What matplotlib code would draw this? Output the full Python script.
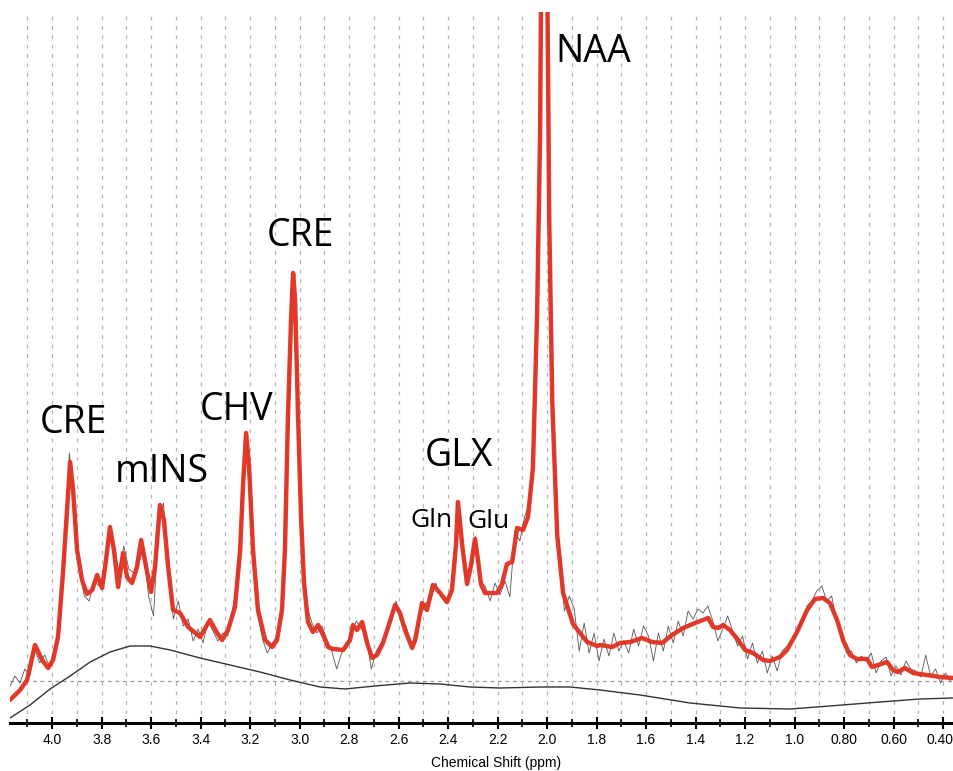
import numpy as np
import matplotlib
matplotlib.use("Agg")
import matplotlib.pyplot as plt
import matplotlib.transforms as mtransforms

# LCModel-style fit (red): ppm / amplitude (a.u.)
fit_ppm = [4.170, 4.129, 4.101, 4.069, 4.040, 4.016, 3.996, 3.976, 3.956, 3.939,
           3.927, 3.915, 3.899, 3.879, 3.859, 3.838, 3.818, 3.798, 3.782, 3.766,
           3.750, 3.733, 3.713, 3.697, 3.677, 3.657, 3.640, 3.620, 3.600, 3.584,
           3.564, 3.548, 3.531, 3.511, 3.483, 3.450, 3.402, 3.362, 3.333, 3.313,
           3.289, 3.261, 3.240, 3.228, 3.216, 3.204, 3.188, 3.168, 3.139, 3.111,
           3.091, 3.071, 3.059, 3.047, 3.034, 3.026, 3.018, 3.006, 2.994, 2.982,
           2.966, 2.946, 2.925, 2.905, 2.885, 2.865, 2.824, 2.796, 2.784, 2.768,
           2.747, 2.727, 2.707, 2.687, 2.663, 2.642, 2.614, 2.594, 2.574, 2.545,
           2.533, 2.505, 2.485, 2.461, 2.432, 2.404, 2.384, 2.368, 2.360, 2.343,
           2.323, 2.307, 2.291, 2.279, 2.267, 2.251, 2.202, 2.182, 2.162, 2.141,
           2.121, 2.097, 2.077, 2.057, 2.040, 2.028, 2.024, 2.012, 1.999, 1.991,
           1.979, 1.959, 1.935, 1.895, 1.838, 1.798, 1.785, 1.737, 1.705, 1.664,
           1.616, 1.576, 1.535, 1.495, 1.450, 1.402, 1.349, 1.329, 1.309, 1.289,
           1.261, 1.228, 1.200, 1.168, 1.127, 1.099, 1.059, 1.030, 0.990, 0.949,
           0.917, 0.885, 0.857, 0.828, 0.804, 0.776, 0.748, 0.707, 0.687, 0.663,
           0.626, 0.602, 0.582, 0.554, 0.521, 0.465, 0.412, 0.360]
fit_amp = [-19, -9, 1, 36, 21, 13, 21, 44, 108, 174,
           219, 191, 131, 101, 87, 91, 106, 93, 121, 154,
           131, 94, 128, 104, 98, 114, 141, 114, 89, 114,
           176, 161, 114, 71, 68, 54, 44, 61, 48, 41,
           51, 74, 131, 198, 248, 214, 131, 71, 41, 34,
           41, 71, 131, 264, 364, 408, 381, 264, 164, 98,
           59, 49, 56, 46, 34, 32, 31, 41, 56, 51,
           59, 38, 23, 26, 38, 54, 76, 68, 51, 33,
           41, 78, 71, 96, 88, 79, 91, 136, 179, 136,
           97, 116, 142, 121, 97, 88, 88, 97, 117, 119,
           153, 151, 164, 213, 369, 547, 700, 950, 700, 460,
           280, 146, 88, 57, 39, 35, 36, 34, 38, 39,
           43, 39, 38, 46, 53, 58, 63, 54, 53, 56,
           51, 41, 31, 28, 21, 20, 24, 31, 49, 71,
           82, 83, 78, 61, 41, 26, 22, 22, 14, 16,
           19, 11, 9, 13, 8, 6, 4, 3]

# raw spectrum (thin grey), sampled every 0.02 ppm from 4.17 to 0.37
raw_ppm = np.round(4.17 - 0.02 * np.arange(191), 2)
raw_amp = [-5, 5, -2, 12, 5, 32, 18, 26, 14, 32,
           55, 125, 228, 170, 112, 85, 80, 100, 95, 98,
           145, 136, 110, 135, 112, 108, 118, 132, 85, 65,
           155, 178, 115, 62, 80, 55, 62, 40, 52, 38,
           60, 50, 40, 48, 45, 72, 105, 188, 240, 138,
           70, 42, 28, 38, 45, 73, 225, 400, 300, 135,
           75, 58, 48, 55, 42, 30, 12, 28, 33, 50,
           60, 52, 45, 12, 30, 38, 45, 62, 80, 60,
           55, 38, 40, 68, 78, 82, 98, 85, 78, 90,
           135, 168, 105, 108, 145, 100, 95, 80, 98, 86,
           100, 84, 150, 140, 165, 178, 265, 530, 900, 450,
           215, 130, 70, 85, 72, 30, 58, 28, 48, 20,
           42, 25, 48, 30, 40, 28, 52, 35, 55, 45,
           20, 48, 30, 55, 38, 60, 45, 70, 62, 72,
           68, 75, 60, 40, 52, 65, 50, 35, 45, 22,
           38, 18, 30, 8, 25, 10, 30, 35, 42, 50,
           58, 75, 80, 90, 95, 80, 85, 60, 50, 28,
           30, 18, 25, 20, 28, 8, 20, 24, 5, 15,
           6, 20, 12, 10, 4, 26, 5, 12, -2, 8, 0]

# baseline (black)
base_ppm = [4.170, 4.089, 4.008, 3.927, 3.846, 3.766, 3.685, 3.604, 3.523, 3.402,
            3.281, 3.160, 3.038, 2.917, 2.816, 2.695, 2.553, 2.432, 2.311, 2.190,
            2.028, 1.907, 1.786, 1.624, 1.422, 1.220, 1.018, 0.857, 0.655, 0.493, 0.360]
base_amp = [-37, -24, -8, 5, 19, 29, 35, 35, 31, 23,
            16, 9, 1, -6, -8, -5, -2, -3, -6, -7,
            -6, -6, -9, -14, -22, -27, -28, -25, -21, -18, -17]

# metabolite labels: text, ppm, amplitude of baseline, size
labels = ["CRE", "mINS", "CHV", "CRE", "GLX", "Gln", "Glu", "NAA"]
label_ppm = [3.915, 3.555, 3.256, 2.998, 2.355, 2.469, 2.238, 1.814]
label_amp = [248, 199, 261, 435, 215, 154, 153, 619]
label_size = [27, 27, 27, 27, 27, 19, 19, 27]

major_ticks = [4.0, 3.8, 3.6, 3.4, 3.2, 3.0, 2.8, 2.6, 2.4, 2.2, 2.0, 1.8, 1.6,
               1.4, 1.2, 1.0, 0.8, 0.6, 0.4]
major_labels = ["4.0", "3.8", "3.6", "3.4", "3.2", "3.0", "2.8", "2.6", "2.4", "2.2",
                "2.0", "1.8", "1.6", "1.4", "1.2", "1.0", "0.80", "0.60", "0.40"]
minor_ticks = np.round(np.arange(4.1, 0.35, -0.1), 1)

fig = plt.figure(figsize=(9.54, 7.71), dpi=100)
ax = fig.add_axes([10 / 954, 48 / 771, 944 / 954, 711 / 771])

for x in minor_ticks:
    ax.axvline(x, color="#b4b4b4", lw=0.9, ls=(0, (3, 4.5)), zorder=0)
ax.axhline(0, color="#9a9a9a", lw=0.9, ls=(0, (3, 3)), zorder=0)

ax.plot(base_ppm, base_amp, color="#333333", lw=1.0, zorder=1)
ax.plot(raw_ppm, raw_amp, color="#555555", lw=0.6, zorder=2)
ax.plot(fit_ppm, fit_amp, color="#e2301f", lw=3.2, solid_joinstyle="round",
        solid_capstyle="round", alpha=0.95, zorder=3)

for t, x, y, s in zip(labels, label_ppm, label_amp, label_size):
    ax.text(x, y, t, fontsize=s, family="Open Sans", ha="center", va="baseline",
            color="black", zorder=4)

ax.set_xlim(4.170, 0.3556)
ax.set_ylim(-42, 669)

for side in ["left", "right", "top"]:
    ax.spines[side].set_visible(False)
ax.spines["bottom"].set_linewidth(2.2)
ax.set_yticks([])
ax.set_xticks(major_ticks)
ax.set_xticklabels(major_labels, family="Liberation Sans", fontsize=10)
ax.set_xticks(minor_ticks, minor=True)
ax.tick_params(axis="x", which="major", direction="inout", length=9, width=1.5, pad=3)
ax.tick_params(axis="x", which="minor", direction="inout", length=6, width=1.2)

# last label sits against the right edge
last = ax.get_xticklabels()[-1]
last.set_transform(last.get_transform() +
                   mtransforms.ScaledTranslation(-3 / 100, 0, fig.dpi_scale_trans))

fig.text(496 / 954, 8 / 771, "Chemical Shift (ppm)",
         family="Liberation Sans", fontsize=10, ha="center", va="center")

fig.savefig("out.png", dpi=100)
